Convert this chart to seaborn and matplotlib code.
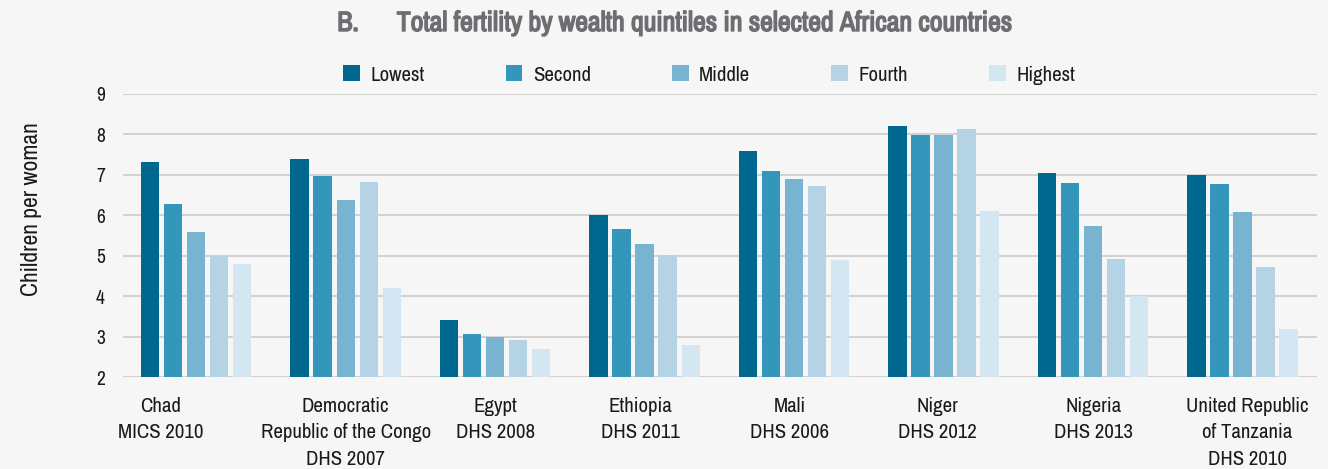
import numpy as np
import pandas as pd
import seaborn as sns
from matplotlib import pyplot as plt
from matplotlib import font_manager
from matplotlib import patheffects
from matplotlib.patches import Patch

# Data
countries = ["Chad\nMICS 2010",
             "Democratic\nRepublic of the Congo\nDHS 2007",
             "Egypt\nDHS 2008",
             "Ethiopia\nDHS 2011",
             "Mali\nDHS 2006",
             "Niger\nDHS 2012",
             "Nigeria\nDHS 2013",
             "United Republic\nof Tanzania\nDHS 2010"]
quintiles = ["Lowest", "Second", "Middle", "Fourth", "Highest"]

lowest = [7.32, 7.39, 3.41, 6.00, 7.59, 8.21, 7.04, 6.99]
second = [6.28, 6.98, 3.07, 5.67, 7.09, 7.99, 6.79, 6.77]
middle = [5.58, 6.38, 2.98, 5.29, 6.89, 7.99, 5.74, 6.08]
fourth = [5.00, 6.81, 2.91, 5.01, 6.72, 8.13, 4.91, 4.72]
highest = [4.79, 4.20, 2.70, 2.79, 4.90, 6.10, 4.01, 3.20]

colors = ["#00688f", "#3596bb", "#78b3d0", "#b4d3e4", "#d4e6f1"]

df = pd.DataFrame({"Lowest": lowest, "Second": second, "Middle": middle,
                   "Fourth": fourth, "Highest": highest}, index=countries)
long = df.reset_index(names="country").melt(id_vars="country", var_name="quintile",
                                           value_name="tfr")

# the original uses a condensed sans; take one if the machine has it
installed = sorted({f.name for f in font_manager.fontManager.ttflist})
narrow = [n for n in installed if "Narrow" in n or "Condensed" in n]
main_font = narrow[0] if narrow else "Roboto"

sns.set_style("white")
plt.rcParams["font.family"] = [main_font, "DejaVu Sans"]
bg = "#f6f6f6"
txt = "#1a1a1a"

fig = plt.figure(figsize=(13.28, 4.69), dpi=100, facecolor=bg)
ax = fig.add_axes([0.0926, 0.196, 0.8994, 0.604], facecolor=bg)

sns.barplot(data=long, x="country", y="tfr", hue="quintile", hue_order=quintiles,
            palette=colors, saturation=1, width=0.77, gap=0.2, linewidth=0,
            legend=False, ax=ax)

ax.set_ylim(2, 9)
ax.set_xlim(-0.49, 7.5)
ax.set_yticks(range(2, 10))
ax.yaxis.grid(True, color="#d2d2d2", linewidth=1.4)
ax.set_axisbelow(True)
for s in ax.spines.values():
    s.set_visible(False)
ax.tick_params(axis="y", length=0, labelsize=14, pad=13, labelcolor=txt)
ax.set_ylabel("Children per woman", fontsize=17, color=txt)
ax.yaxis.set_label_coords(-0.068, 0.594)
ax.set_xlabel("")

# Chad's label sits a little left of its bars in the original
label_x = [-0.24, 1, 2, 2.97, 3.97, 4.96, 6, 7.03]
ax.set_xticks(label_x)
ax.set_xticklabels(countries, fontsize=15, linespacing=1.5, color=txt)
ax.tick_params(axis="x", length=0, pad=14)

title = fig.text(0.508, 0.95,
                 "B.      Total fertility by wealth quintiles in selected African countries",
                 ha="center", va="center", fontsize=20, fontweight="bold", color="#6d6e71")
title.set_path_effects([patheffects.withStroke(linewidth=1.1, foreground="#6d6e71")])

handles = [Patch(facecolor=c, edgecolor="none") for c in colors]
fig.legend(handles, quintiles, loc="center", bbox_to_anchor=(0.534, 0.84), ncol=5,
           frameon=False, fontsize=15, handlelength=0.8, handleheight=0.8,
           columnspacing=3.9, handletextpad=0.5, labelcolor=txt)

fig.savefig("out.png", dpi=100, facecolor=bg)
